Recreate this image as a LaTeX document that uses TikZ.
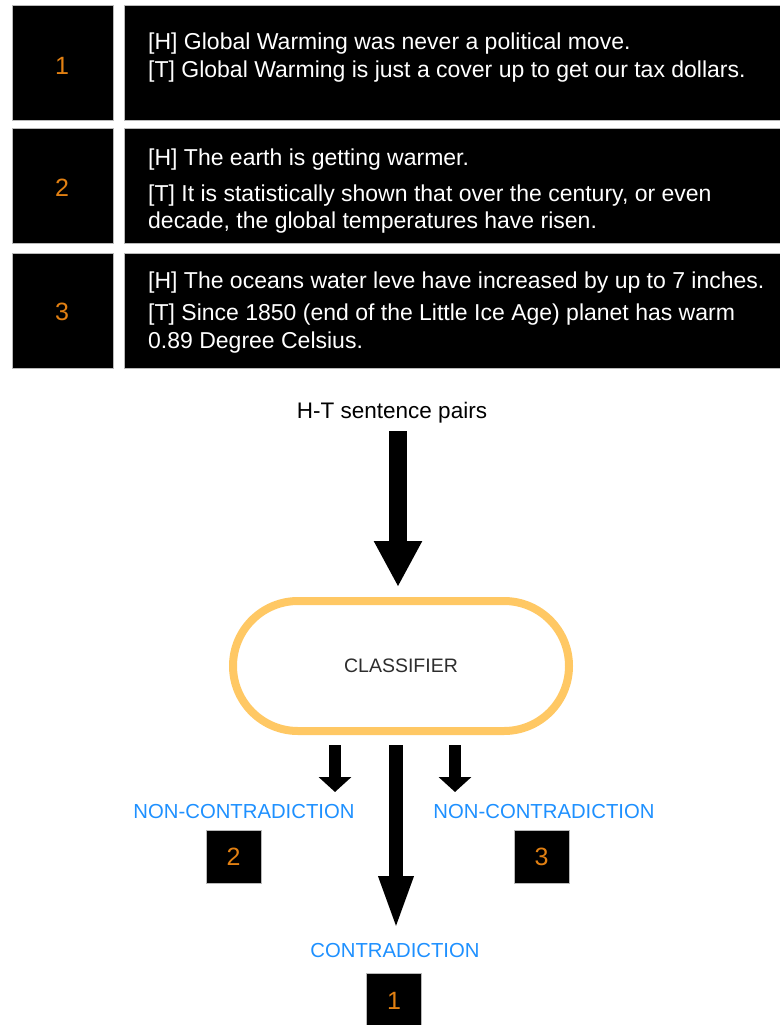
\documentclass[tikz,border=0pt]{standalone}
\usepackage{fontspec}
\setmainfont{Liberation Sans}
\usetikzlibrary{arrows.meta}
\definecolor{numorange}{RGB}{226,128,18}
\definecolor{clsorange}{RGB}{255,200,100}
\definecolor{labelblue}{RGB}{30,144,255}
\definecolor{clstext}{RGB}{45,45,45}
\tikzset{
  cell/.style={fill=black, draw=gray!55, line width=1pt, inner sep=0pt, anchor=north west},
  numtxt/.style={text=numorange, font=\fontsize{25}{25}\selectfont, inner sep=0pt},
  rowtxt/.style={text=white, font=\fontsize{23}{27}\selectfont, anchor=west, inner sep=0pt},
  outlab/.style={text=labelblue, font=\fontsize{20.3}{20}\selectfont, inner sep=0pt},
  tag/.style={fill=black, draw=gray!55, line width=1pt, minimum width=55pt, minimum height=53pt, inner sep=0pt},
}
\begin{document}
\begin{tikzpicture}[x=1pt,y=-1pt]
\useasboundingbox (0,0) rectangle (779,1025);

% table of H-T pairs
\node[cell, minimum width=101pt, minimum height=115pt] (n1) at (12,5) {};
\node[cell, minimum width=670pt, minimum height=115pt] (r1) at (124,5) {};
\node[cell, minimum width=101pt, minimum height=115pt] (n2) at (12,128) {};
\node[cell, minimum width=670pt, minimum height=115pt] (r2) at (124,128) {};
\node[cell, minimum width=101pt, minimum height=115pt] (n3) at (12,253) {};
\node[cell, minimum width=670pt, minimum height=115pt] (r3) at (124,253) {};

\node[numtxt] (k1) at (62,66) {1};
\node[numtxt] (k2) at (62,188) {2};
\node[numtxt] (k3) at (62,312) {3};

\node[rowtxt] (h1) at (148,44) {[H] Global Warming was never a political move.};
\node[rowtxt] (t1) at (148,72) {[T] Global Warming is just a cover up to get our tax dollars.};
\node[rowtxt] (h2) at (148,160) {[H] The earth is getting warmer.};
\node[rowtxt] (t2a) at (148,196) {[T] It is statistically shown that over the century, or even};
\node[rowtxt] (t2b) at (148,223) {decade, the global temperatures have risen.};
\node[rowtxt] (h3) at (148,283) {[H] The oceans water leve have increased by up to 7 inches.};
\node[rowtxt] (t3a) at (148,315) {[T] Since 1850 (end of the Little Ice Age) planet has warm};
\node[rowtxt] (t3b) at (148,343) {0.89 Degree Celsius.};

% classifier flow
\node[text=black, font=\fontsize{22.5}{22}\selectfont, inner sep=0pt] (ht) at (392,413) {H-T sentence pairs};
\node[draw=clsorange, line width=8pt, minimum width=336pt, minimum height=130pt,
      rounded corners=65pt, inner sep=0pt, text=clstext,
      font=\fontsize{19.5}{19}\selectfont] (cls) at (401,666) {CLASSIFIER};

\coordinate (inTop) at (398,431);
\draw[line width=18pt, -{Triangle[width=45pt,length=46pt]}]
  (inTop) -- ([yshift=10pt]cls.north -| inTop);

\node[outlab] (nc2) at (244,812) {NON-CONTRADICTION};
\node[outlab] (nc3) at (544,812) {NON-CONTRADICTION};
\node[outlab] (c1) at (395,951) {CONTRADICTION};

\node[tag] (b2) at (233.5,856.5) {};
\node[numtxt] at (b2) {2};
\node[tag] (b3) at (541.5,856.5) {};
\node[numtxt] at (b3) {3};
\node[tag, anchor=north] (b1) at (394,973) {};
\node[numtxt] at (394,1001) {1};

% outputs of the classifier
\coordinate (leftTip) at (335,792);
\coordinate (rightTip) at (455,792);
\coordinate (midTip) at (396,931);
\draw[line width=12pt, -{Triangle[width=32pt,length=15pt]}]
  ([yshift=-10pt]cls.south -| leftTip) -- (leftTip);
\draw[line width=12pt, -{Triangle[width=32pt,length=15pt]}]
  ([yshift=-10pt]cls.south -| rightTip) -- (rightTip);
\draw[line width=14pt, -{Triangle[width=31pt,length=55pt]}]
  ([yshift=-10pt]cls.south -| midTip) -- (midTip);
\end{tikzpicture}
\end{document}
